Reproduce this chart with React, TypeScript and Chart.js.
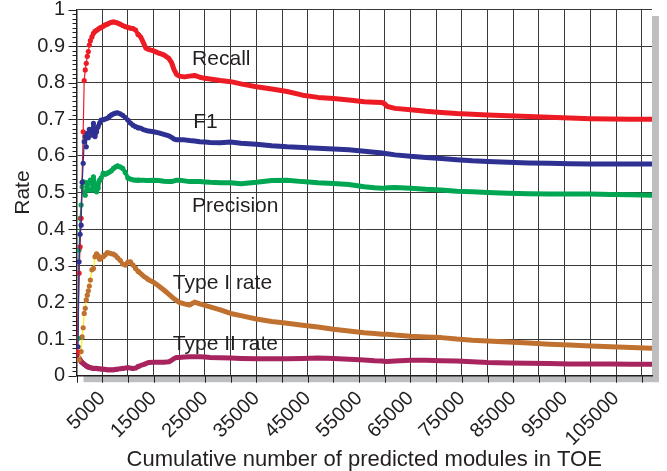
import React, { useEffect, useRef } from 'react';
import { Chart, registerables } from 'chart.js';

Chart.register(...registerables);

// Cumulative number of predicted modules (x values shared by all series)
const X_MODULES = [
  100, 300, 500, 700, 900, 1100, 1300, 1500, 1700, 1900,
  2100, 2300, 2500, 2700, 3000, 3300, 3600, 3900, 4200, 4500,
  4800, 5200, 5600, 6000, 6400, 6800, 7200, 7600, 8000, 8500,
  9000, 9500, 10000, 10500, 11000, 11500, 12000, 12500, 13000, 13500,
  14000, 15000, 16000, 17000, 18000, 18500, 19000, 19500, 20000, 21000,
  22000, 23000, 24000, 25000, 26000, 28000, 30000, 32000, 35000, 38000,
  41000, 44000, 47000, 50000, 53000, 56000, 58000, 59500, 60000, 60500,
  62000, 65000, 68000, 71000, 74000, 77000, 80000, 84000, 88000, 92000,
  96000, 100000, 104000, 108000, 112000,
];

const RECALL = [
  0.066, null, 0.28, 0.352, 0.43, null, 0.666, 0.806, 0.835, 0.853,
  0.872, 0.885, 0.903, 0.915, 0.925, 0.935, 0.94, 0.943, 0.946, 0.949,
  0.951, 0.954, 0.958, 0.96, 0.963, 0.965, 0.966, 0.965, 0.963, 0.96,
  0.956, 0.953, 0.951, 0.949, 0.948, 0.944, 0.932, 0.925, 0.91, 0.894,
  0.891, 0.887, 0.881, 0.876, 0.866, 0.855, 0.835, 0.822, 0.818, 0.816,
  0.818, 0.82, 0.815, 0.812, 0.81, 0.806, 0.803, 0.797, 0.789, 0.783,
  0.776, 0.766, 0.76, 0.757, 0.753, 0.748, 0.747, 0.746, 0.742, 0.735,
  0.73, 0.726, 0.722, 0.719, 0.716, 0.714, 0.712, 0.71, 0.708, 0.706,
  0.704, 0.702, 0.701, 0.7, 0.7,
];

const F1 = [
  null, 0.079, 0.311, 0.386, 0.411, 0.528, 0.58, 0.639, 0.653, 0.625,
  0.662, 0.65, 0.673, 0.665, 0.657, 0.689, 0.653, 0.666, 0.68, 0.69,
  0.698, 0.699, 0.701, 0.703, 0.708, 0.712, 0.715, 0.717, 0.718, 0.715,
  0.711, 0.705, 0.698, 0.69, 0.684, 0.68, 0.677, 0.676, 0.672, 0.67,
  0.668, 0.666, 0.663, 0.659, 0.655, 0.651, 0.646, 0.644, 0.644, 0.644,
  0.642, 0.641, 0.639, 0.638, 0.637, 0.636, 0.638, 0.635, 0.632, 0.628,
  0.625, 0.623, 0.621, 0.619, 0.617, 0.613, 0.61, 0.608, 0.607, 0.606,
  0.603, 0.599, 0.596, 0.593, 0.59, 0.587, 0.585, 0.583, 0.581, 0.58,
  0.579, 0.578, 0.578, 0.578, 0.578,
];

const PRECISION = [
  null, 0.102, 0.343, 0.43, 0.466, 0.516, 0.53, 0.502, 0.493, 0.527,
  0.516, 0.507, 0.527, 0.534, 0.507, 0.543, 0.525, 0.502, 0.512, 0.534,
  0.54, 0.553, 0.55, 0.553, 0.556, 0.56, 0.566, 0.57, 0.573, 0.57,
  0.566, 0.555, 0.54, 0.537, 0.535, 0.534, 0.534, 0.534, 0.534, 0.533,
  0.533, 0.534, 0.533, 0.531, 0.53, 0.53, 0.532, 0.534, 0.534, 0.532,
  0.53, 0.53, 0.53, 0.529, 0.528, 0.527, 0.527, 0.524, 0.528, 0.533,
  0.534, 0.53, 0.527, 0.525, 0.522, 0.516, 0.513, 0.512, 0.512, 0.513,
  0.514, 0.512, 0.509, 0.507, 0.504, 0.502, 0.5, 0.498, 0.497, 0.496,
  0.496, 0.496, 0.495, 0.494, 0.493,
];

const TYPE1 = [
  null, null, 0.043, null, 0.066, 0.106, 0.131, 0.17, 0.184, 0.207,
  0.22, 0.232, 0.245, 0.261, 0.289, 0.293, 0.325, 0.333, 0.328, 0.318,
  0.322, 0.325, 0.33, 0.336, 0.335, 0.333, 0.332, 0.328, 0.322, 0.315,
  0.305, 0.302, 0.31, 0.311, 0.302, 0.293, 0.285, 0.279, 0.272, 0.268,
  0.262, 0.255, 0.245, 0.234, 0.222, 0.216, 0.21, 0.205, 0.2, 0.196,
  0.193, 0.201, 0.196, 0.192, 0.188, 0.18, 0.17, 0.164, 0.155, 0.148,
  0.143, 0.138, 0.133, 0.127, 0.122, 0.117, 0.115, 0.113, 0.113, 0.113,
  0.111, 0.108, 0.106, 0.104, 0.1, 0.097, 0.095, 0.092, 0.089, 0.086,
  0.084, 0.081, 0.079, 0.077, 0.075,
];

const TYPE2 = [
  0.064, 0.055, 0.048, 0.043, 0.039, 0.036, 0.034, 0.031, 0.029, 0.027,
  0.025, 0.024, 0.023, 0.022, 0.021, 0.02, 0.02, 0.02, 0.019, 0.019,
  0.018, 0.018, 0.017, 0.016, 0.016, 0.016, 0.016, 0.017, 0.018, 0.019,
  0.02, 0.021, 0.022, 0.021, 0.02, 0.021, 0.025, 0.028, 0.03, 0.033,
  0.036, 0.037, 0.037, 0.037, 0.038, 0.042, 0.047, 0.05, 0.05, 0.051,
  0.052, 0.052, 0.052, 0.051, 0.05, 0.049, 0.048, 0.047, 0.046, 0.046,
  0.046, 0.047, 0.048, 0.047, 0.045, 0.043, 0.041, 0.04, 0.039, 0.039,
  0.04, 0.042, 0.042, 0.041, 0.04, 0.038, 0.036, 0.035, 0.034, 0.033,
  0.032, 0.032, 0.032, 0.031, 0.031,
];

const SERIES_NAMES = ['F1', 'Recall', 'Precision', 'Type I rate', 'Type II rate'];

// x-axis grid positions; labels shown on 5000, 15000, ... 105000
const X_TICKS = [
  0, 5000, 10000, 15000, 20000, 25000, 30000, 35000, 40000, 45000, 50000, 55000,
  60000, 65000, 70000, 75000, 80000, 85000, 90000, 95000, 100000, 105000, 110000,
];
const X_LABELED = [5000, 15000, 25000, 35000, 45000, 55000, 65000, 75000, 85000, 95000, 105000];

// In-plot series captions: anchor (data coords) of each caption's left baseline
const CAPTION_TEXT = ['Recall', 'F1', 'Precision', 'Type I rate', 'Type II rate'];
const CAPTION_X = [22500, 22700, 22500, 18750, 18750];
const CAPTION_Y = [0.8485, 0.6759, 0.4457, 0.2354, 0.0702];

const X_TITLE = 'Cumulative number of predicted modules in TOE';
const Y_TITLE = 'Rate';

const FONT = '"Liberation Sans", Arial, Helvetica, sans-serif';
const TEXT = '#231f20';
const GRID = '#3a3a3a';
const SHADOW = '#bcbec0';

function toPoints(values: (number | null)[]) {
  const pts: { x: number; y: number }[] = [];
  X_MODULES.forEach((x, i) => {
    const v = values[i];
    if (v !== null && v !== undefined) pts.push({ x, y: v });
  });
  return pts;
}

function makeDataset(label: string, values: (number | null)[], color: string, thinUntil: number, earlyColor?: string) {
  return {
    label,
    data: toPoints(values),
    borderColor: color,
    backgroundColor: color,
    pointBackgroundColor: color,
    pointBorderWidth: 0,
    pointRadius: (c: any) => (c.raw && c.raw.x <= 12000 ? 2.6 : 0),
    pointHoverRadius: 0,
    borderWidth: 5,
    borderJoinStyle: 'round' as const,
    borderCapStyle: 'round' as const,
    tension: 0,
    segment: {
      borderWidth: (c: any) => (c.p1.parsed.x <= thinUntil ? 1.2 : c.p1.parsed.x <= 12000 ? 4 : 5),
      borderColor: (c: any) => (earlyColor && c.p1.parsed.x <= thinUntil ? earlyColor : color),
    },
  };
}

const decorPlugin = {
  id: 'decor',
  beforeDraw(chart: any) {
    const { ctx, chartArea: a } = chart;
    ctx.save();
    ctx.fillStyle = SHADOW;
    ctx.fillRect(a.left + 7, a.top + 6.5, a.right - a.left, a.bottom - a.top);
    ctx.fillStyle = '#ffffff';
    ctx.fillRect(a.left, a.top, a.right - a.left, a.bottom - a.top);
    ctx.restore();
  },
  afterDatasetsDraw(chart: any) {
    const { ctx } = chart;
    const xs = chart.scales.x;
    const ys = chart.scales.y;
    ctx.save();
    ctx.font = `21px ${FONT}`;
    ctx.fillStyle = TEXT;
    ctx.textAlign = 'left';
    ctx.textBaseline = 'alphabetic';
    CAPTION_TEXT.forEach((t, i) => {
      ctx.fillText(t, xs.getPixelForValue(CAPTION_X[i]), ys.getPixelForValue(CAPTION_Y[i]));
    });
    ctx.restore();
  },
  afterDraw(chart: any) {
    const { ctx, chartArea: a } = chart;
    const xs = chart.scales.x;
    const ys = chart.scales.y;
    ctx.save();
    ctx.strokeStyle = TEXT;
    ctx.lineWidth = 1;
    ctx.beginPath();
    for (let k = 0; k <= 80; k++) {
      const py = Math.round(ys.getPixelForValue(k * 0.0125)) + 0.5;
      const len = k % 8 === 0 ? 8 : 4;
      ctx.moveTo(a.left - len, py);
      ctx.lineTo(a.left, py);
    }
    X_TICKS.forEach((v) => {
      const px = Math.round(xs.getPixelForValue(v)) + 0.5;
      ctx.moveTo(px, a.bottom);
      ctx.lineTo(px, a.bottom + 7);
    });
    ctx.stroke();
    ctx.restore();
  },
};

export default function App() {
  const canvasRef = useRef<HTMLCanvasElement | null>(null);

  useEffect(() => {
    if (!canvasRef.current) return;
    const chart = new Chart(canvasRef.current, {
      type: 'line',
      data: {
        datasets: [
          makeDataset(SERIES_NAMES[0], F1, '#2e3192', 3000),
          makeDataset(SERIES_NAMES[1], RECALL, '#ed1c24', 3000),
          makeDataset(SERIES_NAMES[2], PRECISION, '#00a651', 3000),
          makeDataset(SERIES_NAMES[3], TYPE1, '#c0712f', 3600, '#fff200'),
          makeDataset(SERIES_NAMES[4], TYPE2, '#a8245f', 3000),
        ] as any,
      },
      options: {
        animation: false,
        responsive: false,
        events: [],
        layout: { padding: { top: 9.5, right: 15, left: 0, bottom: 0 } },
        plugins: {
          legend: { display: false },
          tooltip: { enabled: false },
        },
        scales: {
          x: {
            type: 'linear',
            min: 0,
            max: 112000,
            afterBuildTicks: (s: any) => {
              s.ticks = X_TICKS.map((v) => ({ value: v }));
            },
            ticks: {
              autoSkip: false,
              maxRotation: 45,
              minRotation: 45,
              color: TEXT,
              font: { family: FONT, size: 20 },
              padding: 4,
              callback: (v: any) => (X_LABELED.includes(Number(v)) ? String(v) : ''),
            },
            grid: {
              color: GRID,
              lineWidth: 1,
              drawTicks: true,
              tickLength: 7,
              tickColor: 'rgba(0,0,0,0)',
            },
            border: { display: true, color: TEXT, width: 1.5 },
            title: {
              display: true,
              text: X_TITLE,
              color: TEXT,
              font: { family: FONT, size: 22, lineHeight: 1 },
              padding: { top: 0, bottom: 0 },
            },
            afterFit: (s: any) => {
              s.height = 95.3;
              s.paddingLeft = 0;
              s.paddingRight = 0;
            },
          },
          y: {
            min: 0,
            max: 1,
            ticks: {
              stepSize: 0.1,
              color: TEXT,
              font: { family: FONT, size: 20, lineHeight: 1 },
              padding: 3.5,
              callback: (v: any) => String(Number(Number(v).toFixed(1))),
            },
            grid: {
              color: GRID,
              lineWidth: 1,
              drawTicks: true,
              tickLength: 8,
              tickColor: 'rgba(0,0,0,0)',
            },
            border: { display: true, color: TEXT, width: 1.5 },
            title: {
              display: true,
              text: Y_TITLE,
              color: TEXT,
              font: { family: FONT, size: 21 },
              padding: { top: 11, bottom: 0 },
            },
            afterFit: (s: any) => {
              s.width = 76.5;
              s.paddingTop = 0;
              s.paddingBottom = 0;
            },
          },
        },
      } as any,
      plugins: [decorPlugin],
    });
    return () => chart.destroy();
  }, []);

  return (
    <div style={{ position: 'fixed', left: 0, top: 0, width: 667, height: 471, background: '#ffffff' }}>
      <canvas ref={canvasRef} width={667} height={471} style={{ display: 'block' }} />
    </div>
  );
}
